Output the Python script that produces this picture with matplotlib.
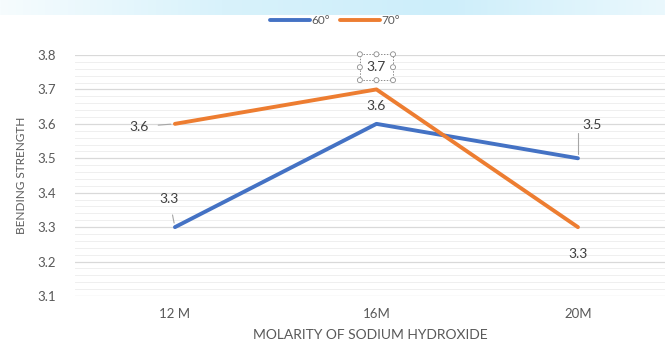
import numpy as np
import matplotlib.pyplot as plt
from matplotlib.colors import LinearSegmentedColormap
from matplotlib.patches import Ellipse

# data
molarity = ['12 M', '16M', '20M']
strength_60 = [3.3, 3.6, 3.5]
strength_70 = [3.6, 3.7, 3.3]
series_names = ['60°', '70°']

plt.rcParams['font.family'] = ['Lato', 'DejaVu Sans']

fig = plt.figure(figsize=(6.65, 3.49), dpi=100)
fig.patch.set_facecolor('white')

# pale banner along the top edge
band = fig.add_axes([0, 1 - 15 / 349, 1, 15 / 349])
grad = np.linspace(0, 1, 256).reshape(1, -1)
band.imshow(grad, aspect='auto', extent=[0, 1, 0, 1],
            cmap=LinearSegmentedColormap.from_list('b', ['#f6fcfe', '#d8f2fb', '#cdeefa', '#eaf8fd']))
band.axis('off')

ax = fig.add_axes([75 / 665, 53 / 349, 590 / 665, 241 / 349])
x = np.arange(len(molarity))
blue = '#4472C4'
orange = '#ED7D31'
ax.plot(x, strength_60, color=blue, lw=2.8, label=series_names[0], solid_capstyle='round', zorder=3)
ax.plot(x, strength_70, color=orange, lw=2.8, label=series_names[1], solid_capstyle='round', zorder=3)

ax.set_xlim(-0.496, 2.432)
ax.set_ylim(3.1, 3.8)
ax.set_yticks(np.arange(3.1, 3.81, 0.1))
ax.set_yticks(np.arange(3.1, 3.8, 0.02), minor=True)
ax.set_yticklabels(['%.1f' % v for v in np.arange(3.1, 3.81, 0.1)])
ax.set_xticks(x)
ax.set_xticklabels(molarity)
ax.grid(axis='y', which='major', color='#d9d9d9', lw=0.9)
ax.grid(axis='y', which='minor', color='#efefef', lw=0.7)
ax.set_axisbelow(True)
for s in ax.spines.values():
    s.set_visible(False)
ax.tick_params(which='both', length=0, labelsize=9.5, colors='#595959')
ax.tick_params(axis='y', pad=14)
ax.tick_params(axis='x', pad=9)
ax.set_xlabel('MOLARITY OF SODIUM HYDROXIDE', fontsize=10, color='#595959', labelpad=6)
ax.set_ylabel('BENDING STRENGTH', fontsize=8.5, color='#595959', labelpad=7)

# data labels (offsets in points)
lab = dict(fontsize=10, color='#404040', ha='center', va='center', textcoords='offset points')
lead = dict(arrowstyle='-', color='#a6a6a6', lw=0.8, shrinkA=5, shrinkB=3)
ax.annotate('%.1f' % strength_60[0], (x[0], strength_60[0]), xytext=(-4, 20), arrowprops=lead, **lab)
ax.annotate('%.1f' % strength_60[1], (x[1], strength_60[1]), xytext=(0, 13), **lab)
ax.annotate('%.1f' % strength_60[2], (x[2], strength_60[2]), xytext=(10, 24),
            arrowprops=dict(lead, connectionstyle='angle,angleA=0,angleB=90,rad=0', shrinkA=6), **lab)
ax.annotate('%.1f' % strength_70[0], (x[0], strength_70[0]), xytext=(-26, -2), arrowprops=lead, **lab)
t = ax.annotate('%.1f' % strength_70[1], (x[1], strength_70[1]), xytext=(0, 16), **lab)
t.set_bbox(dict(boxstyle='square,pad=0.5', fc='white', ec='#8c8c8c', lw=0.7, ls=(0, (1.5, 1.5))))
ax.annotate('%.1f' % strength_70[2], (x[2], strength_70[2]), xytext=(0, -19), **lab)

# selection handles around the 3.7 label
fig.canvas.draw()
bb = t.get_bbox_patch().get_window_extent().transformed(fig.transFigure.inverted())
xs = (bb.x0, (bb.x0 + bb.x1) / 2, bb.x1)
ys = (bb.y0, (bb.y0 + bb.y1) / 2, bb.y1)
for i, hx in enumerate(xs):
    for j, hy in enumerate(ys):
        if i == 1 and j == 1:
            continue
        fig.patches.append(Ellipse((hx, hy), 5 / 665, 5 / 349, transform=fig.transFigure,
                                   fc='white', ec='#8c8c8c', lw=0.6, zorder=5))

leg = fig.legend(loc='center', bbox_to_anchor=(335 / 665, 1 - 21 / 349), ncol=2, frameon=False,
                 fontsize=8.5, handlelength=3.4, handletextpad=0.1, columnspacing=0.8, labelcolor='#595959')
for h in leg.get_lines():
    h.set_linewidth(2.8)

plt.savefig('out.png', dpi=100)
